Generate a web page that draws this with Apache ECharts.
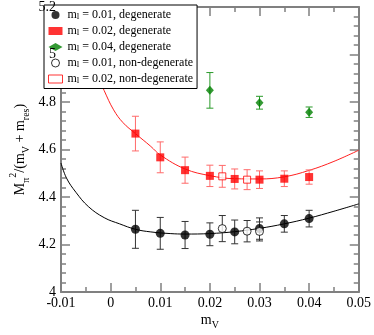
<!DOCTYPE html>
<html>
<head>
<meta charset="utf-8">
<script src="https://cdn.jsdelivr.net/npm/echarts@6/dist/echarts.min.js"></script>
<style>
html, body { margin: 0; padding: 0; background: #fff; }
#chart { width: 374px; height: 335px; }
</style>
</head>
<body>
<div id="chart"></div>
<script>
// 数据：点 (x = m_V, y, 误差)
const xDeg01 = [0.005, 0.01, 0.015, 0.02, 0.025, 0.03, 0.035, 0.04];
const yDeg01 = [4.264, 4.247, 4.240, 4.243, 4.253, 4.267, 4.287, 4.309];
const eDeg01 = [0.080, 0.067, 0.057, 0.048, 0.050, 0.045, 0.035, 0.035];

const xDeg02 = [0.005, 0.01, 0.015, 0.02, 0.025, 0.03, 0.035, 0.04];
const yDeg02 = [4.667, 4.567, 4.513, 4.489, 4.476, 4.473, 4.477, 4.484];
const eDeg02 = [0.073, 0.065, 0.055, 0.045, 0.042, 0.037, 0.033, 0.030];

const xDeg04 = [0.02, 0.03, 0.04];
const yDeg04 = [4.849, 4.797, 4.757];
const eDeg04 = [0.075, 0.027, 0.022];

const xNon01 = [0.0225, 0.0275, 0.03];
const yNon01 = [4.267, 4.256, 4.255];
const eNon01 = [0.055, 0.045, 0.040];

const xNon02 = [0.0225, 0.0275];
const yNon02 = [4.487, 4.473];
const eNon02 = [0.046, 0.042];

// 拟合曲线
const fitX01 = [-0.01, -0.0089, -0.007, -0.0045, -0.0013, 0.0018, 0.005, 0.0081, 0.012, 0.015, 0.02, 0.025, 0.03, 0.035, 0.04, 0.045, 0.05];
const fitY01 = [4.543, 4.48, 4.42, 4.36, 4.313, 4.287, 4.264, 4.253, 4.246, 4.244, 4.246, 4.254, 4.268, 4.287, 4.311, 4.34, 4.371];
const fitX02 = [-0.003, -0.0013, 0.0006, 0.0025, 0.005, 0.0081, 0.01, 0.015, 0.02, 0.025, 0.03, 0.035, 0.04, 0.045, 0.05];
const fitY02 = [4.93, 4.848, 4.767, 4.713, 4.667, 4.613, 4.577, 4.518, 4.49, 4.477, 4.476, 4.485, 4.512, 4.55, 4.597];

const xTicks = [-0.01, 0, 0.01, 0.02, 0.03, 0.04, 0.05];
const yTicks = [4, 4.2, 4.4, 4.6, 4.8, 5, 5.2];

const legendNames = ['0.01, degenerate', '0.02, degenerate', '0.04, degenerate', '0.01, non-degenerate', '0.02, non-degenerate'];

const FONT = 'Liberation Serif';
const AXIS_GRAY = '#808080';

function pts(xs, ys) { return xs.map((x, i) => [x, ys[i]]); }
function errData(xs, ys, es) { return xs.map((x, i) => [x, ys[i], es[i]]); }

function errRender(color) {
    return function (params, api) {
        const x = api.value(0), y = api.value(1), e = api.value(2);
        const top = api.coord([x, y + e]);
        const bot = api.coord([x, y - e]);
        const w = 3.5;
        const style = { stroke: color, lineWidth: 1, fill: null };
        return {
            type: 'group',
            children: [
                { type: 'line', shape: { x1: top[0], y1: top[1], x2: bot[0], y2: bot[1] }, style: style },
                { type: 'line', shape: { x1: top[0] - w, y1: top[1], x2: top[0] + w, y2: top[1] }, style: style },
                { type: 'line', shape: { x1: bot[0] - w, y1: bot[1], x2: bot[0] + w, y2: bot[1] }, style: style }
            ]
        };
    };
}

function errSeries(data, color) {
    return {
        type: 'custom', renderItem: errRender(color), data: data,
        encode: { x: 0, y: 1 }, z: 3, silent: true, xAxisIndex: 0, yAxisIndex: 0
    };
}

const sub = { fontFamily: FONT, fontSize: 9, color: '#000', verticalAlign: 'bottom', lineHeight: 13 };
const legendRich = {
    t: { fontFamily: FONT, fontSize: 12, color: '#000', lineHeight: 13 },
    s: sub
};

const axisCommon = {
    type: 'value',
    axisLine: { show: true, onZero: false, lineStyle: { color: AXIS_GRAY, width: 2 } },
    axisTick: { show: true, inside: true, length: 9, lineStyle: { color: AXIS_GRAY, width: 1.5 } },
    minorTick: { show: true, length: 5, lineStyle: { color: AXIS_GRAY, width: 1.5 } },
    splitLine: { show: false },
    minorSplitLine: { show: false },
    nameMoveOverlap: false
};

const chart = echarts.init(document.getElementById('chart'));

const option = {
    animation: false,
    backgroundColor: '#fff',
    grid: { left: 44, right: 12, top: 6, bottom: 30, containLabel: false },
    legend: {
        orient: 'vertical', left: 44, top: 5, z: 4,
        backgroundColor: '#fff', borderColor: '#000', borderWidth: 1, borderRadius: 0,
        padding: [4, 4, 3, 4], itemGap: 3.5, itemWidth: 14, itemHeight: 8,
        symbolKeepAspect: true,
        textStyle: { fontFamily: FONT, fontSize: 12, color: '#000', rich: legendRich },
        formatter: function (name) { return '{t|m}{s|l}{t| = ' + name + '}'; },
        data: [
            { name: legendNames[0], icon: 'circle' },
            { name: legendNames[1], icon: 'rect' },
            { name: legendNames[2], icon: 'diamond' },
            { name: legendNames[3], icon: 'circle', itemStyle: { color: '#fff', borderColor: '#000', borderWidth: 1 } },
            { name: legendNames[4], icon: 'rect', itemStyle: { color: '#fff', borderColor: '#f00', borderWidth: 1 } }
        ]
    },
    xAxis: [
        Object.assign({}, axisCommon, {
            position: 'bottom', min: xTicks[0], max: xTicks[xTicks.length - 1], interval: 0.01,
            minorTick: Object.assign({}, axisCommon.minorTick, { splitNumber: 2 }),
            axisLabel: { color: '#000', fontFamily: FONT, fontSize: 14, margin: 4, hideOverlap: false,
                showMinLabel: true, showMaxLabel: true,
                formatter: function (v) { return String(Math.round(v * 100) / 100); } },
            name: '{a|m}{s|V}', nameLocation: 'middle', nameGap: 21,
            nameTextStyle: { rich: { a: { fontFamily: FONT, fontSize: 14, color: '#000', lineHeight: 14 },
                s: { fontFamily: FONT, fontSize: 10, color: '#000', verticalAlign: 'bottom', lineHeight: 14, padding: [0, 0, -3, 0] } } }
        }),
        Object.assign({}, axisCommon, {
            position: 'top', min: xTicks[0], max: xTicks[xTicks.length - 1], interval: 0.01,
            minorTick: Object.assign({}, axisCommon.minorTick, { splitNumber: 2 }),
            axisLabel: { show: false }
        })
    ],
    yAxis: [
        // 左侧：只放刻度文字和轴名（放在图例之上）
        Object.assign({}, axisCommon, {
            position: 'left', min: yTicks[0], max: yTicks[yTicks.length - 1], interval: 0.2, z: 6,
            axisLine: { show: false }, axisTick: { show: false }, minorTick: { show: false },
            axisLabel: { color: '#000', fontFamily: FONT, fontSize: 14, margin: 5, hideOverlap: false,
                showMinLabel: true, showMaxLabel: true,
                formatter: function (v) { return String(Math.round(v * 10) / 10); } },
            name: '{a|M}{s|π}{p|2}{a|/(m}{s|V}{a| + m}{s|res}{a|)}',
            nameLocation: 'middle', nameGap: 33,
            nameTextStyle: { rich: {
                a: { fontFamily: FONT, fontSize: 14, color: '#000', lineHeight: 16 },
                s: { fontFamily: FONT, fontSize: 10, color: '#000', verticalAlign: 'bottom', lineHeight: 16, padding: [0, 0, -3, 0] },
                p: { fontFamily: FONT, fontSize: 10, color: '#000', verticalAlign: 'top', lineHeight: 16, padding: [-4, 0, 0, 0] }
            } }
        }),
        Object.assign({}, axisCommon, {
            position: 'right', min: yTicks[0], max: yTicks[yTicks.length - 1], interval: 0.2,
            minorTick: Object.assign({}, axisCommon.minorTick, { splitNumber: 5 }),
            axisLabel: { show: false }
        }),
        // 左侧：轴线和刻度（在图例下面）
        Object.assign({}, axisCommon, {
            position: 'left', min: yTicks[0], max: yTicks[yTicks.length - 1], interval: 0.2,
            minorTick: Object.assign({}, axisCommon.minorTick, { splitNumber: 5 }),
            axisLabel: { show: false }
        })
    ],
    series: [
        { type: 'line', data: pts(fitX01, fitY01), smooth: 0.4, showSymbol: false, silent: true,
          lineStyle: { color: '#000', width: 1 }, z: 2 },
        { type: 'line', data: pts(fitX02, fitY02), smooth: 0.4, showSymbol: false, silent: true,
          lineStyle: { color: '#ff2020', width: 1 }, z: 2 },
        errSeries(errData(xDeg01, yDeg01, eDeg01), '#333'),
        errSeries(errData(xDeg02, yDeg02, eDeg02), '#ff6a6a'),
        errSeries(errData(xDeg04, yDeg04, eDeg04), '#2a9a2a'),
        errSeries(errData(xNon01, yNon01, eNon01), '#333'),
        errSeries(errData(xNon02, yNon02, eNon02), '#ff6a6a'),
        { name: legendNames[0], type: 'scatter', data: pts(xDeg01, yDeg01), symbol: 'circle', symbolSize: 9,
          itemStyle: { color: '#000' }, z: 5 },
        { name: legendNames[1], type: 'scatter', data: pts(xDeg02, yDeg02), symbol: 'rect', symbolSize: 8,
          itemStyle: { color: '#f00' }, z: 5 },
        { name: legendNames[2], type: 'scatter', data: pts(xDeg04, yDeg04), symbol: 'diamond', symbolSize: [8, 9],
          itemStyle: { color: '#008000' }, z: 5 },
        { name: legendNames[3], type: 'scatter', data: pts(xNon01, yNon01), symbol: 'circle', symbolSize: 8,
          itemStyle: { color: '#fff', borderColor: '#000', borderWidth: 1 }, z: 5 },
        { name: legendNames[4], type: 'scatter', data: pts(xNon02, yNon02), symbol: 'rect', symbolSize: 7,
          itemStyle: { color: '#fff', borderColor: '#f00', borderWidth: 1 }, z: 5 }
    ]
};

chart.setOption(option);
</script>
</body>
</html>
